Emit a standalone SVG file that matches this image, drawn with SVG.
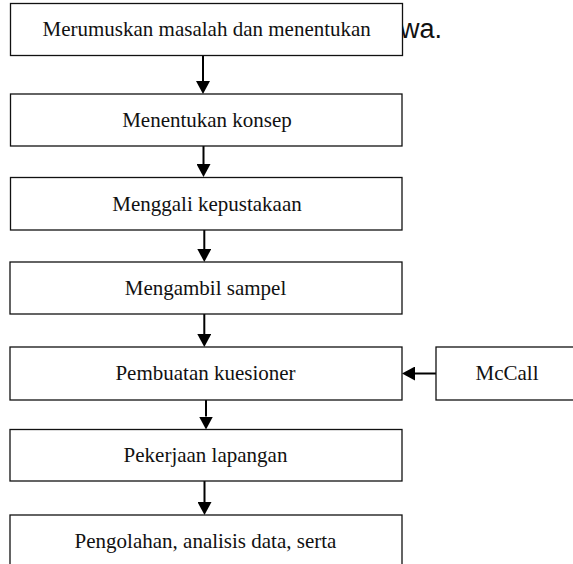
<svg xmlns="http://www.w3.org/2000/svg" width="573" height="564" viewBox="0 0 573 564">
<style>
.box{fill:#fff;stroke:#111;stroke-width:1.3}
.lbl{font-family:"Liberation Serif","Times New Roman",serif;font-size:21px;fill:#111;text-anchor:middle}
.con{stroke:#000;stroke-width:2;fill:none}
.bg{font-family:"Liberation Sans",Arial,sans-serif;font-size:27px;fill:#111}
</style>
<defs>
<marker id="ah" viewBox="0 0 13 14" refX="0" refY="7" markerWidth="13" markerHeight="14" markerUnits="userSpaceOnUse" orient="auto">
<path d="M0,0 L13,7 L0,14 z" fill="#000"/>
</marker>
</defs>
<rect width="573" height="564" fill="#fff"/>
<text class="bg" x="400" y="38">wa.</text>
<g id="connectors">
<line class="con" x1="203" y1="55.5" x2="203" y2="81" marker-end="url(#ah)"/>
<line class="con" x1="203.5" y1="146" x2="203.5" y2="164" marker-end="url(#ah)"/>
<line class="con" x1="204.3" y1="230" x2="204.3" y2="249" marker-end="url(#ah)"/>
<line class="con" x1="204.3" y1="314" x2="204.3" y2="334" marker-end="url(#ah)"/>
<line class="con" x1="206" y1="400" x2="206" y2="416.5" marker-end="url(#ah)"/>
<line class="con" x1="204.5" y1="481" x2="204.5" y2="502" marker-end="url(#ah)"/>
<line class="con" x1="436" y1="373.5" x2="415" y2="373.5" marker-end="url(#ah)"/>
</g>
<g id="n1"><rect class="box" x="10.5" y="3.5" width="392" height="52"/><text class="lbl" x="206.7" y="36">Merumuskan masalah dan menentukan</text></g>
<g id="n2"><rect class="box" x="10.5" y="94" width="391.5" height="52"/><text class="lbl" x="207" y="127">Menentukan konsep</text></g>
<g id="n3"><rect class="box" x="10.5" y="177.5" width="391.5" height="52.5"/><text class="lbl" x="207" y="211">Menggali kepustakaan</text></g>
<g id="n4"><rect class="box" x="10" y="262" width="392" height="52"/><text class="lbl" x="205.5" y="295">Mengambil sampel</text></g>
<g id="n5"><rect class="box" x="10" y="347" width="392" height="53"/><text class="lbl" x="205.5" y="380">Pembuatan kuesioner</text></g>
<g id="n6"><rect class="box" x="10" y="429.5" width="392" height="51.5"/><text class="lbl" x="205.5" y="462">Pekerjaan lapangan</text></g>
<g id="n7"><rect class="box" x="10" y="515" width="392" height="53"/><text class="lbl" x="205.5" y="548">Pengolahan, analisis data, serta</text></g>
<g id="n8"><rect class="box" x="436" y="347" width="140" height="53"/><text class="lbl" x="507" y="380">McCall</text></g>
</svg>
